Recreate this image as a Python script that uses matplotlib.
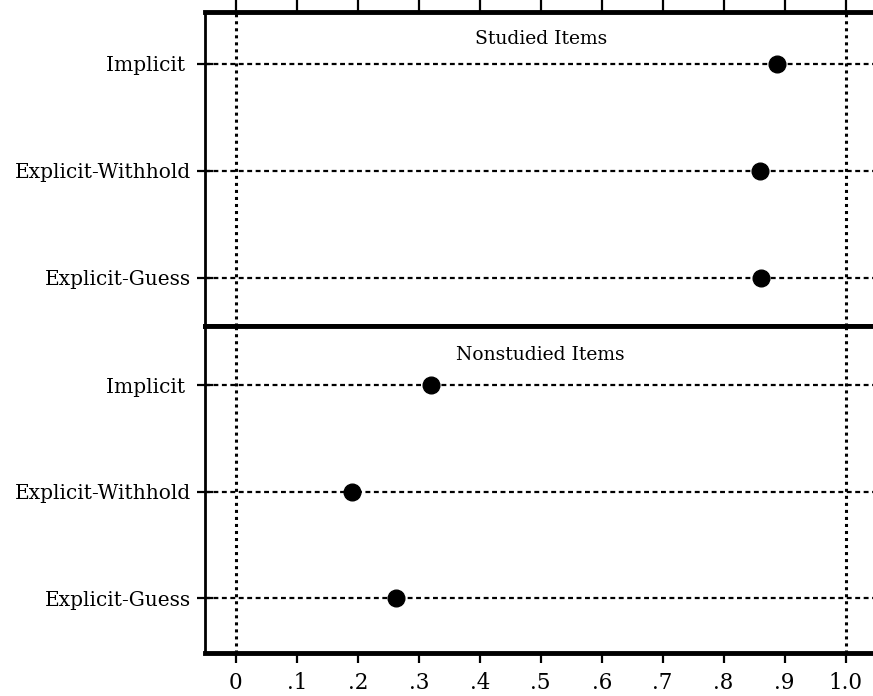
import matplotlib
matplotlib.use("Agg")
import matplotlib.pyplot as plt

conditions = ["Implicit", "Explicit-Withhold", "Explicit-Guess"]
studied = [0.887, 0.859, 0.861]
nonstudied = [0.320, 0.191, 0.263]
panel_titles = ["Studied Items", "Nonstudied Items"]
xticks = [0, 0.1, 0.2, 0.3, 0.4, 0.5, 0.6, 0.7, 0.8, 0.9, 1.0]
xticklabels = ["0", ".1", ".2", ".3", ".4", ".5", ".6", ".7", ".8", ".9", "1.0"]

plt.rcParams['font.family'] = ['DejaVu Serif']

W, H = 873, 696
fig = plt.figure(figsize=(W / 100, H / 100), dpi=100)

left = 205 / W
ax_top = fig.add_axes([left, 1 - 326 / H, 1 - left, (326 - 12) / H])
ax_bot = fig.add_axes([left, 1 - 653 / H, 1 - left, (653 - 326) / H])

xlim = (-0.0507, 1.045)
ylims = [(2.449, -0.486), (2.516, -0.554)]
title_y = [-0.23, -0.28]

for i, (ax, vals) in enumerate(zip([ax_top, ax_bot], [studied, nonstudied])):
    ys = list(range(len(conditions)))
    ax.set_xlim(*xlim)
    ax.set_ylim(*ylims[i])
    for y, v in zip(ys, vals):
        ax.plot([xlim[0], xlim[1]], [y, y], color="black", lw=1.6,
                linestyle=(0, (2.2, 1.6)), zorder=2)
        ax.plot([v], [y], "o", color="black", markersize=12, zorder=4)
    for xv in (0.0, 1.0):
        ax.axvline(xv, color="black", lw=2.2, linestyle=(0, (1, 1.3)), zorder=3)
    ax.set_yticks(ys)
    ax.set_yticklabels([c + " " if c == "Implicit" else c for c in conditions], fontsize=14.5)
    ax.tick_params(axis="y", direction="inout", length=12, width=1.6, pad=4)
    ax.spines["right"].set_visible(False)
    ax.spines["left"].set_linewidth(2.0)
    ax.spines["top"].set_linewidth(3.5)
    ax.spines["bottom"].set_linewidth(3.5)
    ax.text(0.5, title_y[i], panel_titles[i], ha="center", va="center", fontsize=13.5)
    ax.set_xticks(xticks)
    if i == 0:
        ax.tick_params(axis="x", bottom=False, labelbottom=False, top=True,
                       labeltop=False, direction="out", length=9, width=1.6)
    else:
        ax.set_xticklabels(xticklabels, fontsize=15.5)
        ax.tick_params(axis="x", bottom=True, top=False, direction="out",
                       length=7, width=1.6, pad=7)

fig.savefig("out.png", dpi=100)
